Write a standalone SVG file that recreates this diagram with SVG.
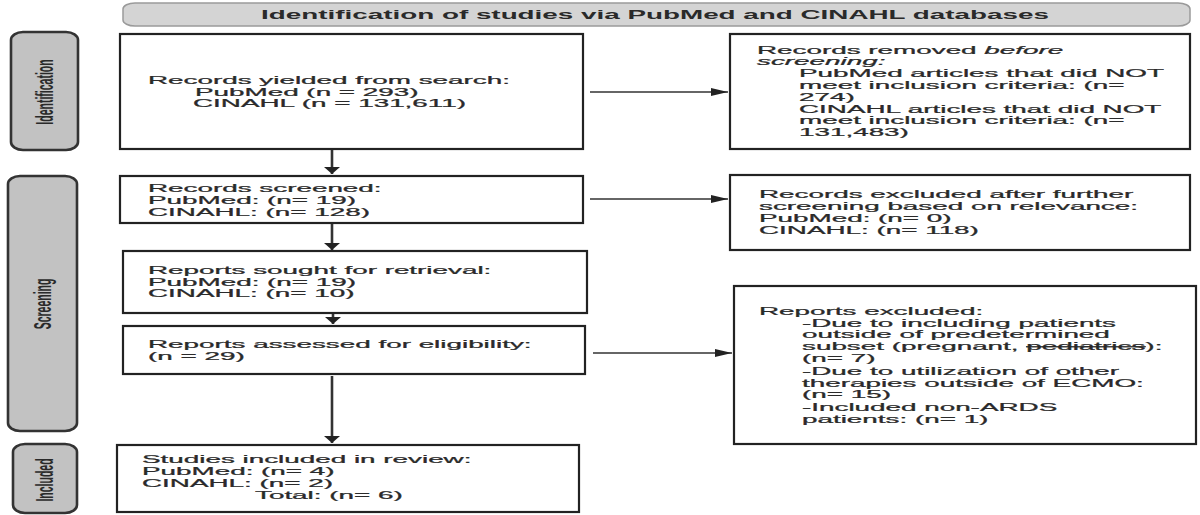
<svg xmlns="http://www.w3.org/2000/svg" width="1200" height="515" viewBox="0 0 1200 515">
<style>
  .box { fill: #ffffff; stroke: #222222; stroke-width: 2.2; }
  .side { fill: #c2c2c2; stroke: #333333; stroke-width: 2.6; }
  .head { fill: #d4d4d4; stroke: #9a9a9a; stroke-width: 1.5; }
  .t { font-family: "Liberation Sans", Arial, sans-serif; font-size: 11px; fill: #2a2a2a; stroke: #2a2a2a; stroke-width: 0.25; }
  .hb { font-family: "Liberation Sans", Arial, sans-serif; font-size: 12px; font-weight: bold; fill: #2a2a2a; }
  .sb { font-family: "Liberation Sans", Arial, sans-serif; font-size: 10.5px; font-weight: bold; fill: #2a2a2a; }
  .ch { stroke: #333333; stroke-width: 1.3; fill: none; }
  .cv { stroke: #333333; stroke-width: 2.6; fill: none; }
</style>
<defs>
  <marker id="ah" markerUnits="userSpaceOnUse" markerWidth="18" markerHeight="8" refX="17" refY="4" orient="auto">
    <path d="M0,0 L17,4 L0,8 z" fill="#222222"/>
  </marker>
  <marker id="av" markerUnits="userSpaceOnUse" markerWidth="8" markerHeight="16" refX="7" refY="8" orient="auto">
    <path d="M0,0 L7,8 L0,16 z" fill="#222222"/>
  </marker>
</defs>
<rect width="1200" height="515" fill="#ffffff"/>

<g id="header">
  <rect class="head" x="123" y="3" width="1067" height="23" rx="12" ry="6"/>
  <text class="hb" text-anchor="middle" transform="translate(655,19) scale(2.32,1)">Identification of studies via PubMed and CINAHL databases</text>
</g>

<g id="side-identification">
  <rect class="side" x="11" y="32" width="67" height="118" rx="12" ry="8"/>
  <text class="sb" text-anchor="middle" transform="translate(44,92) scale(2.32,1) rotate(-90)" y="3.8">Identification</text>
</g>
<g id="side-screening">
  <rect class="side" x="8" y="176" width="69" height="255" rx="12" ry="8"/>
  <text class="sb" text-anchor="middle" transform="translate(42,304) scale(2.32,1) rotate(-90)" y="3.8">Screening</text>
</g>
<g id="side-included">
  <rect class="side" x="13" y="444" width="64" height="69" rx="12" ry="8"/>
  <text class="sb" text-anchor="middle" transform="translate(44,480) scale(2.32,1) rotate(-90)" y="3.8">Included</text>
</g>

<g id="connectors">
  <path class="cv" d="M332,150 V174" marker-end="url(#av)"/>
  <path class="ch" d="M590,92 H728" marker-end="url(#ah)"/>
  <path class="ch" d="M590,199 H728" marker-end="url(#ah)"/>
  <path class="cv" d="M332,223 V250" marker-end="url(#av)"/>
  <path class="cv" d="M333,298 V324" marker-end="url(#av)"/>
  <path class="ch" d="M593,353 H732" marker-end="url(#ah)"/>
  <path class="cv" d="M332,376 V443" marker-end="url(#av)"/>
</g>

<g id="records-yielded">
  <rect class="box" x="120" y="34" width="463" height="115"/>
  <text class="t" transform="translate(148,84) scale(2.53,1)">Records yielded from search:</text>
  <text class="t" transform="translate(195,96) scale(2.53,1)">PubMed (n = 293)</text>
  <text class="t" transform="translate(193,107) scale(2.53,1)">CINAHL (n = 131,611)</text>
</g>

<g id="records-removed">
  <rect class="box" x="730" y="34" width="460" height="115"/>
  <text class="t" transform="translate(757,54) scale(2.53,1)">Records removed <tspan font-style="italic">before</tspan></text>
  <text class="t" font-style="italic" transform="translate(757,65) scale(2.53,1)">screening:</text>
  <text class="t" transform="translate(799,77) scale(2.53,1)">PubMed articles that did NOT</text>
  <text class="t" transform="translate(799,89) scale(2.53,1)">meet inclusion criteria: (n=</text>
  <text class="t" transform="translate(799,101) scale(2.53,1)">274)</text>
  <text class="t" transform="translate(799,113) scale(2.53,1)">CINAHL articles that did NOT</text>
  <text class="t" transform="translate(799,124) scale(2.53,1)">meet inclusion criteria: (n=</text>
  <text class="t" transform="translate(799,136) scale(2.53,1)">131,483)</text>
</g>

<g id="records-screened">
  <rect class="box" x="120" y="176" width="463" height="47"/>
  <text class="t" transform="translate(148,192) scale(2.53,1)">Records screened:</text>
  <text class="t" transform="translate(148,204) scale(2.53,1)">PubMed: (n= 19)</text>
  <text class="t" transform="translate(148,216) scale(2.53,1)">CINAHL: (n= 128)</text>
</g>

<g id="records-excluded">
  <rect class="box" x="730" y="175" width="460" height="75"/>
  <text class="t" transform="translate(759,198) scale(2.53,1)">Records excluded after further</text>
  <text class="t" transform="translate(759,210) scale(2.53,1)">screening based on relevance:</text>
  <text class="t" transform="translate(759,222) scale(2.53,1)">PubMed: (n= 0)</text>
  <text class="t" transform="translate(759,234) scale(2.53,1)">CINAHL: (n= 118)</text>
</g>

<g id="reports-sought">
  <rect class="box" x="123" y="251" width="464" height="62"/>
  <text class="t" transform="translate(148,274) scale(2.53,1)">Reports sought for retrieval:</text>
  <text class="t" transform="translate(148,286) scale(2.53,1)">PubMed: (n= 19)</text>
  <text class="t" transform="translate(148,297) scale(2.53,1)">CINAHL: (n= 10)</text>
</g>

<g id="reports-assessed">
  <rect class="box" x="123" y="326" width="462" height="48"/>
  <text class="t" transform="translate(148,348) scale(2.53,1)">Reports assessed for eligibility:</text>
  <text class="t" transform="translate(148,360) scale(2.53,1)">(n = 29)</text>
</g>

<g id="reports-excluded">
  <rect class="box" x="734" y="286" width="462" height="158"/>
  <text class="t" transform="translate(759,315) scale(2.53,1)">Reports excluded:</text>
  <text class="t" transform="translate(802,327) scale(2.53,1)">-Due to including patients</text>
  <text class="t" transform="translate(802,338) scale(2.53,1)">outside of predetermined</text>
  <text class="t" transform="translate(802,350) scale(2.53,1)">subset (pregnant, <tspan text-decoration="line-through">pediatrics</tspan>):</text>
  <text class="t" transform="translate(802,362) scale(2.53,1)">(n= 7)</text>
  <text class="t" transform="translate(802,375) scale(2.53,1)">-Due to utilization of other</text>
  <text class="t" transform="translate(802,387) scale(2.53,1)">therapies outside of ECMO:</text>
  <text class="t" transform="translate(802,398) scale(2.53,1)">(n= 15)</text>
  <text class="t" transform="translate(802,411) scale(2.53,1)">-Included non-ARDS</text>
  <text class="t" transform="translate(802,423) scale(2.53,1)">patients: (n= 1)</text>
</g>

<g id="studies-included">
  <rect class="box" x="117" y="445" width="462" height="67"/>
  <text class="t" transform="translate(142,463) scale(2.53,1)">Studies included in review:</text>
  <text class="t" transform="translate(142,475) scale(2.53,1)">PubMed: (n= 4)</text>
  <text class="t" transform="translate(142,487) scale(2.53,1)">CINAHL: (n= 2)</text>
  <text class="t" transform="translate(255,499) scale(2.53,1)">Total: (n= 6)</text>
</g>
</svg>
